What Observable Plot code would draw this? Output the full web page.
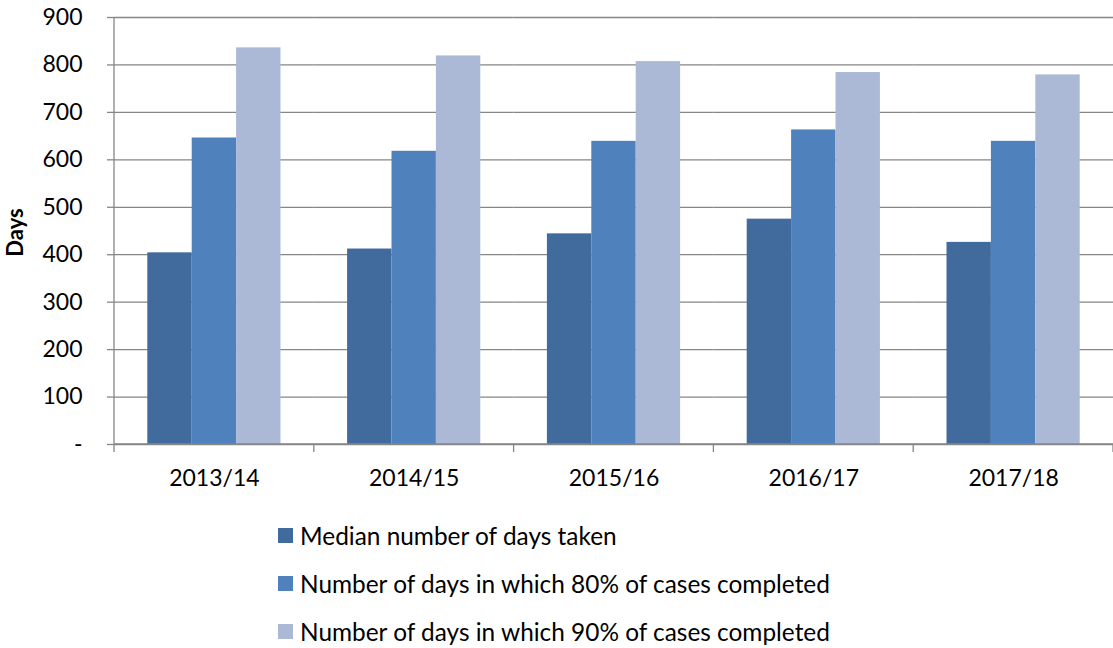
<!DOCTYPE html>
<html><head><meta charset="utf-8">
<script src="https://cdn.jsdelivr.net/npm/d3@7"></script>
<script src="https://cdn.jsdelivr.net/npm/@observablehq/plot@0.6"></script>
<style>
body{margin:0;background:#fff;font-family:Lato,"Open Sans",sans-serif;}
#legend{padding-left:278px;margin-top:11px;}
.row{display:flex;align-items:center;height:48px;font-size:24.4px;color:#000;}
.sw{width:15px;height:15px;margin-right:7px;flex:none;}
</style></head><body>
<div id="chart"></div>
<div id="legend"></div>
<script>
const years = ["2013/14","2014/15","2015/16","2016/17","2017/18"];
const seriesNames = [
  "Median number of days taken",
  "Number of days in which 80% of cases completed",
  "Number of days in which 90% of cases completed"
];
const medianDays = [404, 412, 444, 475, 426];
const days80 = [646, 618, 639, 663, 639];
const days90 = [836, 819, 807, 784, 779];
const seriesColors = ["#416b9c", "#4f81bd", "#abb9d6"];
const yTicks = [0,100,200,300,400,500,600,700,800,900];
const yLabel = "Days";

const seriesValues = [medianDays, days80, days90];
const data = [];
years.forEach((yr, i) => seriesNames.forEach((s, j) => data.push({year: yr, series: s, value: seriesValues[j][i]})));

const gridColor = "#868686";

const chart = Plot.plot({
  width: 1113,
  height: 500,
  marginTop: 17,
  marginBottom: 56,
  marginLeft: 114,
  marginRight: 0,
  style: {fontFamily: "Lato, sans-serif", fontSize: "23px", color: "#000", background: "#fff"},
  fx: {domain: years, padding: 0, round: false, label: null},
  x: {domain: seriesNames, paddingInner: 0, paddingOuter: 0.75, round: false, axis: null},
  y: {domain: [0, 900], label: null},
  color: {domain: seriesNames, range: seriesColors},
  marks: [
    Plot.gridY(yTicks, {stroke: gridColor, strokeOpacity: 1, strokeWidth: 1.3}),
    Plot.barY(data, {fx: "year", x: "series", y: "value", fill: "series"}),
    Plot.axisY(yTicks, {tickSize: 7, tickPadding: 25, stroke: gridColor, strokeOpacity: 1, strokeWidth: 1.3,
      tickFormat: d => d === 0 ? "-" : String(d), fontSize: 23, fill: "#000", label: null}),
    Plot.axisFx({anchor: "bottom", tickSize: 0, tickPadding: 25, fontSize: 23, fill: "#000", label: null})
  ]
});
document.getElementById("chart").appendChild(chart);

// category axis line, boundary ticks, left axis line and y label, from Plot's own scales
(function () {
  const fxs = chart.scale("fx");
  const ys = chart.scale("y");
  const band = d3.scaleBand().domain(fxs.domain).range(fxs.range).paddingInner(0).paddingOuter(0);
  const bounds = fxs.domain.map(d => band(d));
  bounds.push(band(fxs.domain[fxs.domain.length - 1]) + band.bandwidth());
  const bottom = Math.max(...ys.range), top = Math.min(...ys.range);
  const left = Math.min(...fxs.range), right = Math.max(...fxs.range);
  const g = d3.select(chart).append("g");
  g.append("line").attr("x1", left).attr("x2", left).attr("y1", top).attr("y2", bottom)
    .attr("stroke", gridColor).attr("stroke-width", 1.3);
  g.append("line").attr("x1", left).attr("x2", right).attr("y1", bottom).attr("y2", bottom)
    .attr("stroke", gridColor).attr("stroke-width", 1.3);
  bounds.forEach(b => g.append("line").attr("x1", b).attr("x2", b).attr("y1", bottom).attr("y2", bottom + 8)
    .attr("stroke", gridColor).attr("stroke-width", 1.3));
  g.append("text").text(yLabel)
    .attr("transform", `translate(14,${(top + bottom) / 2 + 2}) rotate(-90)`)
    .attr("text-anchor", "middle").attr("dominant-baseline", "central")
    .attr("font-weight", "bold").attr("font-size", 22).attr("font-family", "Lato, sans-serif").attr("fill", "#000");
})();

const legend = document.getElementById("legend");
seriesNames.forEach((s, i) => {
  const row = document.createElement("div");
  row.className = "row";
  const sw = document.createElement("span");
  sw.className = "sw";
  sw.style.background = seriesColors[i];
  const t = document.createElement("span");
  t.textContent = s;
  row.appendChild(sw); row.appendChild(t);
  legend.appendChild(row);
});
</script>
</body></html>
